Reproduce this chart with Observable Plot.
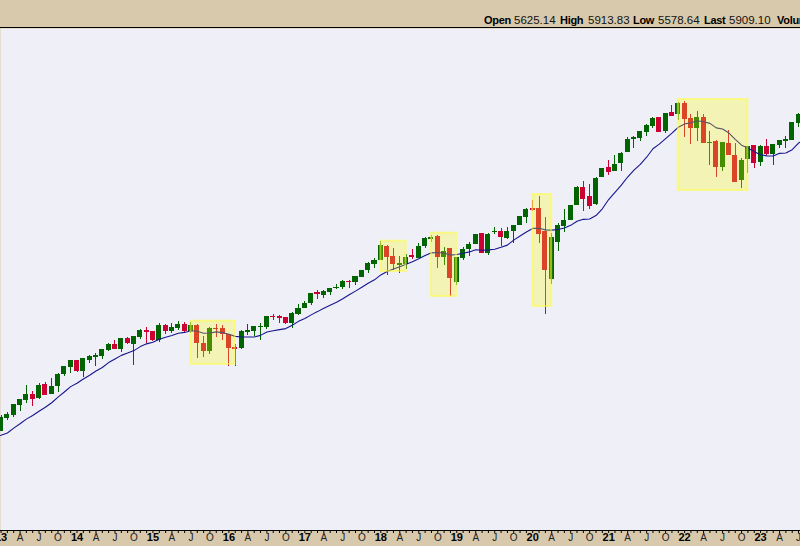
<!DOCTYPE html>
<html><head><meta charset="utf-8">
<script src="https://cdn.jsdelivr.net/npm/d3@7"></script>
<script src="https://cdn.jsdelivr.net/npm/@observablehq/plot@0.6"></script>
<style>
html,body{margin:0;padding:0;overflow:hidden;background:#D8C9AC;width:800px;height:546px}
#hdr{position:relative;height:27px;border-bottom:1px solid #000;background:#D8C9AC;overflow:hidden;white-space:nowrap}
#quote{position:absolute;left:484px;top:14px;font:11.5px Arial,"Liberation Sans",sans-serif;line-height:13px;color:#111;white-space:nowrap}
#quote b{display:inline-block;font-size:11px;color:#000;letter-spacing:-0.3px}
#quote span.v{display:inline-block}
#chart svg{display:block}
</style></head><body>
<div id="hdr"><div id="quote"></div></div>
<div id="chart"></div>
<script>
// ---- header quote ----
const quoteLabels = ["Open", "High", "Low", "Last", "Volume"];
const quoteValues = ["5625.14", "5913.83", "5578.64", "5909.10", ""];

// ---- monthly S&P 500 candles, Mar 2012 .. Aug 2023 ----
const firstMonth = "2012-03";
const open = [
  1365.90,1408.47,1397.86,1310.61,1362.33,1379.32,1406.54,1440.90,1412.20,1416.18,
  1426.19,1498.11,1514.68,1569.18,1597.55,1631.71,1609.78,1689.42,1635.95,1682.41,1758.70,1806.55,
  1845.86,1782.68,1857.68,1873.96,1884.39,1923.87,1962.29,1929.80,2004.07,1971.44,2018.21,2065.78,
  2058.90,1996.67,2105.23,2067.63,2087.38,2108.64,2067.00,2104.49,1970.09,1919.65,2080.76,2082.93,
  2038.20,1936.94,1937.09,2056.62,2067.17,2093.94,2099.34,2173.15,2171.33,2164.33,2128.68,2200.17,
  2251.57,2285.59,2380.13,2362.34,2388.50,2415.65,2431.39,2477.10,2474.42,2521.20,2583.21,2645.10,
  2683.73,2816.45,2715.22,2633.45,2642.96,2718.70,2704.95,2821.17,2896.96,2926.29,2717.58,2790.50,
  2476.96,2702.32,2798.22,2848.63,2952.33,2751.53,2971.41,2980.32,2909.01,2983.69,3050.72,3143.85,
  3244.67,3235.66,2974.28,2498.08,2869.09,3038.78,3105.92,3288.26,3507.44,3385.87,3296.20,3645.87,
  3764.61,3731.17,3842.51,3992.78,4191.98,4216.52,4300.73,4406.86,4528.80,4317.16,4610.62,4602.82,
  4778.14,4519.57,4363.14,4540.32,4130.61,4149.78,3781.00,4112.38,3936.73,3609.78,3901.79,4087.14,
  3853.29,4070.07,3963.34,4100.04,4166.79,4183.03,4450.48,4578.83
];
const high = [
  1419.15,1422.38,1415.32,1363.46,1391.74,1413.46,1474.51,1470.96,1434.27,1448.00,
  1509.94,1530.94,1570.28,1597.57,1687.18,1654.19,1698.78,1709.67,1729.86,1765.21,1813.55,1849.44,
  1850.84,1867.92,1883.97,1897.28,1924.03,1968.17,1991.39,2005.04,2019.26,2018.19,2075.76,2093.55,
  2064.43,2119.59,2117.52,2125.92,2134.72,2129.87,2132.82,2112.66,2020.86,2094.32,2116.48,2104.27,
  2038.20,1962.96,2072.21,2111.05,2099.73,2120.55,2177.09,2193.81,2187.87,2169.60,2214.10,2277.53,
  2300.99,2371.54,2400.98,2398.16,2418.71,2453.82,2484.04,2490.87,2519.44,2582.98,2657.74,2694.97,
  2872.87,2835.96,2801.90,2717.49,2742.24,2791.47,2848.03,2916.50,2940.91,2939.86,2815.15,2800.18,
  2708.95,2813.49,2860.31,2949.52,2954.13,2964.15,3027.98,3013.59,3021.99,3050.10,3154.26,3247.93,
  3337.77,3393.52,3136.72,2954.86,3068.67,3233.13,3279.99,3514.77,3588.11,3549.85,3645.99,3760.20,
  3870.90,3950.43,3994.41,4218.78,4238.04,4302.43,4429.97,4537.36,4545.85,4608.08,4743.83,4808.93,
  4818.62,4595.31,4637.30,4593.45,4307.66,4177.51,4140.15,4325.28,4119.28,3905.42,4080.11,4100.96,
  4094.21,4195.44,4110.75,4170.06,4231.10,4458.48,4607.07,4607.07
];
const low = [
  1340.03,1357.38,1291.98,1266.74,1325.41,1377.60,1396.56,1403.28,1343.35,1398.11,
  1426.19,1485.01,1501.48,1536.03,1581.28,1560.33,1604.57,1627.47,1633.41,1646.47,1746.20,1767.99,
  1770.45,1737.92,1834.44,1814.36,1859.79,1915.98,1930.67,1904.78,1964.04,1820.66,2001.01,1972.56,
  1988.44,1980.90,2039.69,2048.38,2067.93,2056.32,2044.02,1867.01,1871.91,1893.70,2019.39,1993.26,
  1812.29,1810.10,1931.81,2033.80,2025.91,1991.68,2074.02,2147.58,2119.12,2114.72,2083.79,2187.44,
  2245.13,2271.65,2322.25,2328.95,2352.72,2405.70,2407.70,2417.35,2446.55,2520.40,2557.45,2605.52,
  2682.36,2532.69,2585.89,2553.80,2594.62,2691.99,2698.95,2796.34,2864.12,2603.54,2631.09,2346.58,
  2443.96,2681.83,2722.27,2848.63,2750.52,2728.81,2952.22,2822.12,2891.85,2855.94,3050.72,3070.33,
  3214.64,2855.84,2191.86,2447.49,2766.64,2965.66,3101.17,3284.53,3209.45,3233.94,3279.74,3633.40,
  3662.71,3725.62,3723.34,3985.78,4056.88,4164.40,4233.13,4367.73,4305.91,4278.94,4560.00,4495.12,
  4222.62,4114.65,4157.87,4124.92,3810.32,3636.87,3721.56,3954.53,3584.13,3491.58,3698.15,3764.49,
  3794.33,3943.08,3808.86,4049.35,4048.28,4166.15,4385.05,4335.31
];
const close = [
  1408.47,1397.91,1310.33,1362.16,1379.32,1406.58,1440.67,1412.16,1416.18,1426.19,
  1498.11,1514.68,1569.19,1597.57,1630.74,1606.28,1685.73,1632.97,1681.55,1756.54,1805.81,1848.36,
  1782.59,1859.45,1872.34,1883.95,1923.57,1960.23,1930.67,2003.37,1972.29,2018.05,2067.56,2058.90,
  1994.99,2104.50,2067.89,2085.51,2107.39,2063.11,2103.84,1972.18,1920.03,2079.36,2080.41,2043.94,
  1940.24,1932.23,2059.74,2065.30,2096.95,2098.86,2173.60,2170.95,2168.27,2126.15,2198.81,2238.83,
  2278.87,2363.64,2362.72,2384.20,2411.80,2423.41,2470.30,2471.65,2519.36,2575.26,2647.58,2673.61,
  2823.81,2713.83,2640.87,2648.05,2705.27,2718.37,2816.29,2901.52,2913.98,2711.74,2760.17,2506.85,
  2704.10,2784.49,2834.40,2945.83,2752.06,2941.76,2980.38,2926.46,2976.74,3037.56,3140.98,3230.78,
  3225.52,2954.22,2584.59,2912.43,3044.31,3100.29,3271.12,3500.31,3363.00,3269.96,3621.63,3756.07,
  3714.24,3811.15,3972.89,4181.17,4204.11,4297.50,4395.26,4522.68,4307.54,4605.38,4567.00,4766.18,
  4515.55,4373.94,4530.41,4131.93,4132.15,3785.38,4130.29,3955.00,3585.62,3871.98,4080.11,3839.50,
  4076.60,3970.15,4109.31,4169.48,4179.83,4450.38,4588.96,4507.66
];

// ---- highlighted correction zones ----
const boxStart = ["2015-07", "2018-01", "2018-09", "2020-01", "2021-12"];
const boxEnd   = ["2016-02", "2018-05", "2019-01", "2020-04", "2022-11"];
const boxHigh  = [2141, 2877, 2963, 3418, 4854];
const boxLow   = [1825, 2572, 2345, 2260, 3469];

// ---- axis labels ----
const baseYear = 2013;
const quarterLetters = {3: "A", 6: "J", 9: "O"};
const maPeriod = 10;

// month index: months since Jan 2013
const monthIndex = s => { const [y, m] = s.split("-").map(Number); return (y - baseYear) * 12 + (m - 1); };
const i0 = monthIndex(firstMonth);
const rows = open.map((o, k) => ({i: i0 + k, open: o, high: high[k], low: low[k], close: close[k]}));
const boxes = boxStart.map((s, k) => ({x1: monthIndex(s), x2: monthIndex(boxEnd[k]), y1: boxLow[k], y2: boxHigh[k]}));

const UP = "#006400", DOWN = "#CC0033";
const col = d => d.close >= d.open ? UP : DOWN;

const xDomain = [-0.087, 126.31];
const yDomain = [988.4, 6309.6];
const allTicks = d3.range(0, 127);
const qTicks = allTicks.filter(i => quarterLetters[i % 12]);
const yTicks = allTicks.filter(i => i % 12 === 0);

// header (label / value boxes laid out at fixed widths)
const labelW = [30, 28, 25, 25, 30];
const valueW = [46, 45, 46, 48, 0];
document.getElementById("quote").innerHTML = quoteLabels.map((l, k) =>
  `<b style="width:${labelW[k]}px">${l}</b>` +
  (quoteValues[k] ? `<span class="v" style="width:${valueW[k]}px">${quoteValues[k]}</span>` : "")).join("");

const chart = Plot.plot({
  width: 800, height: 518,
  marginTop: 0, marginLeft: 0, marginRight: 0, marginBottom: 16,
  style: {background: "#D8C9AC", fontFamily: "Arial, 'Liberation Sans', sans-serif", fontSize: "10px", overflow: "hidden"},
  x: {type: "linear", domain: xDomain},
  y: {type: "log", domain: yDomain, axis: null},
  color: {type: "identity"},
  marks: [
    Plot.frame({fill: "#EFEFF8", stroke: "none"}),
    Plot.ruleX(rows, {x: "i", y1: "low", y2: "high", stroke: col, strokeWidth: 1, clip: true, shapeRendering: "crispEdges"}),
    Plot.rect(rows, {x1: d => d.i - 0.4, x2: d => d.i + 0.4, y1: "open", y2: "close", fill: col,
      insetTop: -0.5, insetBottom: -0.5, clip: true, shapeRendering: "crispEdges"}),
    Plot.lineY(rows, Plot.windowY({k: maPeriod, anchor: "end", strict: true},
      {x: "i", y: "close", stroke: "#16168C", strokeWidth: 1.1, clip: true})),
    Plot.rect(boxes, {x1: "x1", x2: "x2", y1: "y1", y2: "y2", fill: "#FFFF00", fillOpacity: 0.27,
      stroke: "#FFFF40", strokeOpacity: 0.55, strokeWidth: 2}),
    Plot.ruleY([yDomain[0]], {stroke: "#000", shapeRendering: "crispEdges"}),
    Plot.axisX(allTicks, {tickSize: 3, tickFormat: () => "", stroke: "#000"}),
    Plot.axisX(qTicks, {tickSize: 0, tickPadding: 3, tickFormat: i => quarterLetters[i % 12], fill: "#222", fontSize: 10}),
    Plot.axisX(yTicks, {tickSize: 0, tickPadding: 3, tickFormat: i => String(baseYear + i / 12).slice(2),
      fill: "#000", fontWeight: "bold", fontSize: 11})
  ]
});
document.getElementById("chart").appendChild(chart);
</script></body></html>
